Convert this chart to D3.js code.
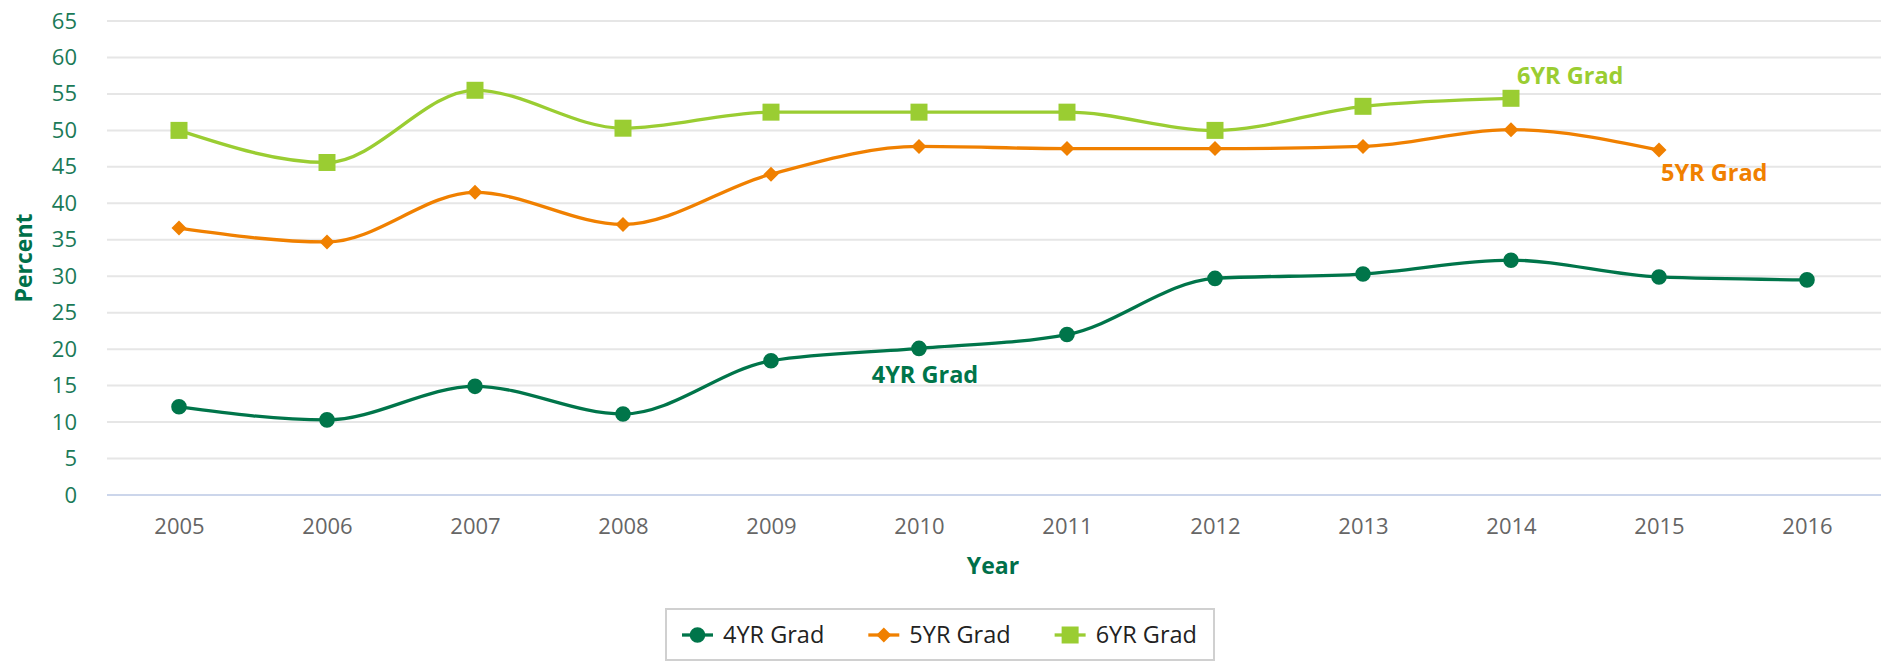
<!DOCTYPE html>
<html>
<head>
<meta charset="utf-8">
<script src="https://cdn.jsdelivr.net/npm/d3@7"></script>
<style>
    body { margin: 0; background: #fff; }
    svg { display: block; font-family: "Open Sans", "Noto Sans", sans-serif; }
</style>
</head>
<body>
<div id="chart"></div>
<script>
'use strict'

var width = 1900;
var height = 665;

// data
var years = ["2005", "2006", "2007", "2008", "2009", "2010", "2011", "2012", "2013", "2014", "2015", "2016"];
var grad4 = [12.1, 10.3, 14.9, 11.1, 18.4, 20.1, 22.0, 29.7, 30.3, 32.2, 29.9, 29.5];
var grad5 = [36.6, 34.7, 41.5, 37.1, 44.0, 47.8, 47.5, 47.5, 47.8, 50.1, 47.3, null];
var grad6 = [50.0, 45.6, 55.5, 50.3, 52.5, 52.5, 52.5, 50.0, 53.3, 54.4, null, null];
var yTicks = [0, 5, 10, 15, 20, 25, 30, 35, 40, 45, 50, 55, 60, 65];
var seriesNames = ["4YR Grad", "5YR Grad", "6YR Grad"];
// year at which each series label sits
var labelYears = ["2010", "2015", "2014"];

var colors = ["#00754a", "#f08000", "#9acd32"];
var markers = ["circle", "diamond", "square"];

var plotLeft = 105, plotRight = 1881, plotTop = 21, plotBottom = 495;

var svg = d3.select("#chart").append("svg").attr("width", width).attr("height", height);

var x = d3.scalePoint().domain(years).range([plotLeft, plotRight]).padding(0.5);
var y = d3.scaleLinear().domain([0, 65]).range([plotBottom, plotTop]);

// grid lines
svg.append("g").selectAll("line").data(yTicks.filter(function(t) { return t > 0; }))
    .enter().append("line")
    .attr("x1", plotLeft + 2).attr("x2", plotRight)
    .attr("y1", function(d) { return y(d); })
    .attr("y2", function(d) { return y(d); })
    .style("stroke", "#e6e6e6")
    .style("stroke-width", 2);

// y axis labels
var yAxis = d3.axisLeft(y).tickValues(yTicks).tickSize(0).tickPadding(0);
var gy = svg.append("g").attr("transform", "translate(77,0)").call(yAxis);
gy.select(".domain").remove();
gy.selectAll("text").style("font-size", "22px").style("fill", "#1b7a58")
    .style("font-family", "'Open Sans', sans-serif");

// x axis
var xAxis = d3.axisBottom(x).tickSize(0).tickPadding(0);
var gx = svg.append("g").attr("transform", "translate(0," + plotBottom + ")").call(xAxis);
gx.select(".domain").attr("d", "M" + (plotLeft + 2) + ",0H" + plotRight)
    .style("stroke", "#ccd6eb").style("stroke-width", 2);
gx.selectAll("text").attr("dy", "0").attr("y", 39)
    .style("font-size", "22px").style("fill", "#666")
    .style("font-family", "'Open Sans', sans-serif");

// axis titles
svg.append("text")
    .attr("transform", "translate(32," + ((plotTop + plotBottom) / 2) + ") rotate(-90)")
    .attr("text-anchor", "middle")
    .style("font-size", "23px").style("font-weight", "bold").style("fill", "#00704a")
    .text("Percent");

svg.append("text")
    .attr("x", (plotLeft + plotRight) / 2).attr("y", 574)
    .attr("text-anchor", "middle")
    .style("font-size", "23px").style("font-weight", "bold").style("fill", "#00704a")
    .text("Year");

function markerPath(type, s) {
    if (type == "circle") {
        return d3.symbol().type(d3.symbolCircle).size(Math.PI * s * s)();
    }
    if (type == "square") {
        return "M" + (-s) + "," + (-s) + "H" + s + "V" + s + "H" + (-s) + "Z";
    }
    return "M0," + (-s) + "L" + s + ",0L0," + s + "L" + (-s) + ",0Z";
}
var markerSize = { circle: 7.8, diamond: 7.5, square: 8.5 };

var allSeries = [grad4, grad5, grad6];

var line = d3.line()
    .defined(function(d) { return d.v != null; })
    .x(function(d) { return x(d.year); })
    .y(function(d) { return y(d.v); })
    .curve(d3.curveMonotoneX);

// draw 6YR first so the dark line sits on top
for (var si = allSeries.length - 1; si >= 0; si--) {
    var pts = years.map(function(yr, i) { return { year: yr, v: allSeries[si][i] }; })
        .filter(function(d) { return d.v != null; });

    svg.append("path").datum(pts)
        .attr("d", line)
        .style("fill", "none")
        .style("stroke", colors[si])
        .style("stroke-width", 3.3);

    svg.append("g").selectAll("path").data(pts).enter().append("path")
        .attr("transform", function(d) { return "translate(" + x(d.year) + "," + y(d.v) + ")"; })
        .attr("d", markerPath(markers[si], markerSize[markers[si]]))
        .style("fill", colors[si]);
}

// series labels near the lines
var labelOffsets = [
    { dx: 6, dy: 35, anchor: "middle" },
    { dx: 2, dy: 31, anchor: "start" },
    { dx: 6, dy: -14, anchor: "start" }
];
seriesNames.forEach(function(name, i) {
    var idx = years.indexOf(labelYears[i]);
    var v = allSeries[i][idx];
    svg.append("text")
        .attr("x", x(labelYears[i]) + labelOffsets[i].dx)
        .attr("y", y(v) + labelOffsets[i].dy)
        .attr("text-anchor", labelOffsets[i].anchor)
        .style("font-size", "23.5px").style("font-weight", "bold")
        .style("fill", colors[i])
        .text(name);
});

// legend
var legend = svg.append("g");
legend.append("rect")
    .attr("x", 666).attr("y", 609).attr("width", 548).attr("height", 51)
    .style("fill", "#fff").style("stroke", "#d0d0d0").style("stroke-width", 2);

var itemX = 682;
seriesNames.forEach(function(name, i) {
    var g = legend.append("g").attr("transform", "translate(" + itemX + ",635)");
    g.append("line").attr("x1", 0).attr("x2", 31).attr("y1", 0).attr("y2", 0)
        .style("stroke", colors[i]).style("stroke-width", 3.3);
    g.append("path").attr("transform", "translate(15.5,0)")
        .attr("d", markerPath(markers[i], markerSize[markers[i]]))
        .style("fill", colors[i]);
    var t = g.append("text").attr("x", 41).attr("y", 8)
        .style("font-size", "23.5px").style("fill", "#222")
        .text(name);
    itemX = itemX + 41 + t.node().getComputedTextLength() + 44;
});
</script>
</body>
</html>
